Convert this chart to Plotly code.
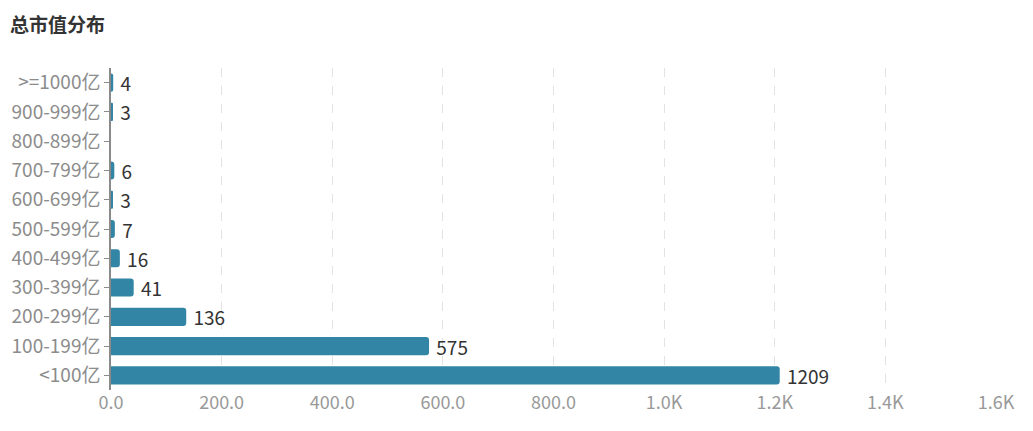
import plotly.graph_objects as go

# 总市值分布 (count of companies per market-cap bucket)
categories = ["<100亿", "100-199亿", "200-299亿", "300-399亿", "400-499亿",
              "500-599亿", "600-699亿", "700-799亿", "800-899亿",
              "900-999亿", ">=1000亿"]
counts = [1209, 575, 136, 41, 16, 7, 3, 6, 0, 3, 4]

x_tickvals = [0, 200, 400, 600, 800, 1000, 1200, 1400, 1600]
x_ticktext = ["0.0", "200.0", "400.0", "600.0", "800.0",
              "1.0K", "1.2K", "1.4K", "1.6K"]

bar_text = ["\u00a0" + str(c) if c > 0 else "" for c in counts]

fig = go.Figure(go.Bar(
    x=counts,
    y=categories,
    orientation="h",
    width=0.62,
    marker=dict(color="#3385a6", cornerradius=3, line=dict(width=0)),
    text=bar_text,
    textposition="outside",
    constraintext="none",
    textfont=dict(color="#333333", size=19),
    cliponaxis=False,
    hoverinfo="x+y",
    showlegend=False))

# page body adds 8px around the figure, so margins are offset by that
fig.update_layout(
    width=1033, height=431,
    paper_bgcolor="white", plot_bgcolor="white",
    margin=dict(l=103, r=45, t=60, b=49),
    font=dict(family="Noto Sans CJK SC, Microsoft YaHei, sans-serif"),
    title=dict(text="<b>总市值分布</b>", x=0.002, xanchor="left",
               y=0.96, yanchor="middle",
               font=dict(size=19, color="#333333")),
    bargap=0.38)

fig.update_xaxes(
    range=[0, 1600],
    tickvals=x_tickvals, ticktext=x_ticktext,
    tickfont=dict(size=18, color="#999999"),
    showgrid=True, gridcolor="#e3e3e3", griddash="dash", gridwidth=1,
    zeroline=False, showline=False, ticks="", automargin=False)

fig.update_yaxes(
    categoryorder="array", categoryarray=categories,
    tickfont=dict(size=19, color="#8c8c8c"),
    showline=True, linecolor="#8a8a8a", linewidth=1.5,
    ticks="outside", ticklen=5, tickcolor="#8a8a8a",
    showgrid=False, zeroline=False, automargin=False)

fig.write_html("out.html")
